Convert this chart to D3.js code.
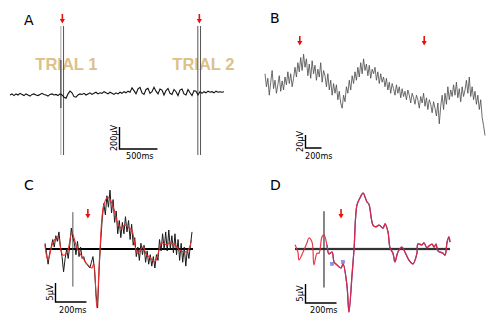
<!DOCTYPE html>
<html>
<head>
<meta charset="utf-8">
<script src="https://cdn.jsdelivr.net/npm/d3@7"></script>
<style>
  body { margin: 0; background: #fff; }
  svg { display: block; }
</style>
</head>
<body>
<svg id="fig" width="500" height="329"></svg>
<script>
// ---- Data ----

// Panel A: raw EEG, µV, one sample per ~26 ms over 2820 ms
var traceA = [0,10,-5,10,0,15,5,-5,10,0,-10,5,10,0,-5,5,15,5,0,-10,5,10,0,5,-5,10,
  0,-20,-30,10,35,20,-15,-20,0,10,
  5,15,0,10,20,5,15,25,10,20,15,30,20,10,25,15,5,20,10,25,15,30,20,35,
  25,65,40,10,55,70,20,5,50,60,15,30,70,35,10,55,45,0,40,60,15,5,50,30,-5,45,55,10,0,50,20,-5,40,35,0,30,
  15,30,20,35,25,30,20,35,25,30,25,30];
var durationA = 2820;
var trialTimesA = [690, 2495];
var trialLabels = ['TRIAL 1', 'TRIAL 2'];

// Panel B: zoomed raw EEG, µV, over 2750 ms
var traceB = [25,5,18,-8,12,30,2, 15,-5,8,22,-2,14,0, 20,8,28,10,25,5,18,
  35,20,42,28,50,30,55, 35,48,22,40,18,45,25, 38,15,32,20,42,12,30,
  22,5,25,0,15,-8,10, -5,8,-15,-2,-20,-28,-8, -18,5,-5,15,0,22,10,
  28,15,35,20,42,25,48, 30,40,22,38,18,32,25, 35,15,28,10,25,12,20,
  5,18,0,12,-5,10,2, -8,8,-5,5,-12,2,-10, -2,-15,0,-8,-20,-5,-12,
  -22,-8,-15,-28,-10,-20,-5, -25,-12,-30,-15,-22,-35,-18, -28,-40,-20,-52,-25,-8,-30,
  -5,-22,5,-15,0,-10,8, -8,12,-12,2,-18,5,-10, 0,15,-5,20,-10,5,-15,
  -2,-22,-8,-30,-15,-42,-55,-70];
var durationB = 2750;
var arrowTimesB = [435, 1990];

// Panel C: single sweep (black) and its filtered version (red), ms / µV
var sweepStartC = -180, sweepStepC = 10;
var sweepC = [1.5,-1.0,-4.0,-1.0,0.5,2.5,0.5,3.5,2.0,4.5,0.5,-2.0,-6.0,-2.5,0.0,-2.5,1.0,5.5,3.0,1.5,
  -1.5,2.0,-2.0,0.5,-2.5,-2.0,-3.5,-4.0,-4.5,-5.0,-3.5,-2.0,-5.5,-12.0,-15.5,-5.0,2.0,8.0,12.0,9.0,
  14.0,11.0,15.5,9.5,13.0,7.0,10.0,4.0,7.5,3.0,7.0,4.0,8.5,4.5,7.5,2.5,6.5,1.0,3.0,-2.0,
  0.5,-3.0,1.5,-1.5,1.0,-3.5,-0.5,-4.0,-1.5,-4.5,-2.0,-5.0,-1.5,-3.0,2.5,-0.5,4.0,0.0,4.5,-0.5,
  5.0,0.0,3.5,-1.0,4.0,-1.5,2.5,-3.0,1.5,-3.5,0.5,-4.5,0.0,-2.5,1.0,4.5];
var filtTimeC = [-181,-161,-129,-97,-65,-39,-6,26,45,65,97,123,135,155,174,200,226,252,271,290,
  316,335,355,381,400,419,452,477,497,529,548,574,606,626,658,690,723,742,768];
var filtValC = [1.1,-2.9,1.6,3.2,-1.6,-1.1,4.2,0.3,-1.1,-2.4,-4.2,-5.0,-3.9,-15.5,-1.1,11.6,13.7,12.1,9.7,6.8,
  5.5,6.3,5.8,5.0,1.1,-1.1,0.5,-1.6,-2.1,-3.4,-1.6,1.6,1.1,1.6,1.1,-0.3,-0.8,-0.5,2.4];
var arrowTimeC = 97;

// Panel D: averaged response, ms / µV
var avgTimeD = [-187,-168,-161,-135,-110,-97,-77,-65,-45,-32,-13,0,19,32,52,65,84,110,123,148,
  161,181,194,213,232,252,277,290,316,335,355,381,394,413,426,445,458,477,503,522,
  548,574,600,606,632,645,664,677,697,710,723,735,768,781,794,806,813];
var avgValD = [1.1,-0.8,-2.9,-0.8,1.6,2.9,1.8,-4.2,-1.1,-1.1,3.2,3.7,1.1,-1.3,-0.8,-3.4,-4.2,-5.0,-3.9,-9.5,
  -16.6,-6.8,0,11.6,13.4,14.7,12.4,11.8,6.3,5.8,6.3,5.5,6.6,4.5,0.3,-1.1,-3.4,-0.8,0.5,-0.8,
  -2.9,-3.9,-1.1,1.3,1.1,1.6,0.3,0.8,1.3,0.5,1.3,-0.5,-1.1,-1.6,1.8,3.2,1.8];
var markTimeD = [52, 123];
var markValD = [-3.9, -3.4];
var arrowTimeD = 110;

var stimLineUV = [-9.9, 9.7];

// ---- Drawing ----
var svg = d3.select('#fig');
var labelFont = '"DejaVu Sans", Verdana, sans-serif';
var smallFont = '"Liberation Sans Narrow", "DejaVu Sans Condensed", sans-serif';

function panelLetter(txt, x, y) {
  svg.append('text').attr('x', x).attr('y', y)
    .attr('font-family', labelFont).attr('font-size', 14).attr('fill', '#000')
    .text(txt);
}

function redArrow(x, y) {
  var g = svg.append('g').attr('transform', 'translate(' + x + ',' + y + ')');
  g.append('line').attr('x1', 0).attr('y1', 0).attr('x2', 0).attr('y2', 7)
    .attr('stroke', '#e8120c').attr('stroke-width', 1.6);
  g.append('path').attr('d', 'M-2.6,5 L2.6,5 L0,9.5 Z').attr('fill', '#e8120c');
}

function scaleBar(x0, y0, w, h, vLabel, hLabel, vx, hx, hy) {
  svg.append('path')
    .attr('d', 'M' + x0 + ',' + (y0 - h) + ' V' + y0 + ' H' + (x0 + w))
    .attr('fill', 'none').attr('stroke', '#000').attr('stroke-width', 1.4);
  svg.append('text')
    .attr('transform', 'translate(' + vx + ',' + (y0 - h / 2) + ') rotate(-90)')
    .attr('text-anchor', 'middle')
    .attr('font-family', smallFont).attr('font-size', 9).text(vLabel);
  svg.append('text').attr('x', hx).attr('y', hy)
    .attr('font-family', smallFont).attr('font-size', 9).text(hLabel);
}

// Panel A
var xA = d3.scaleLinear().domain([0, durationA]).range([10, 224]);
var yA = d3.scaleLinear().domain([-200, 200]).range([117, 73]);
var stepA = durationA / (traceA.length - 1);

panelLetter('A', 24, 25);

svg.selectAll('.trial').data(trialLabels).enter().append('text')
  .attr('class', 'trial')
  .attr('x', function(d, i) { return xA(trialTimesA[i]) - 27; })
  .attr('y', 70)
  .attr('font-family', '"Liberation Sans", Arial, sans-serif')
  .attr('font-weight', 'bold').attr('font-size', 16.5)
  .attr('fill', '#dcc189')
  .text(function(d) { return d; });

trialTimesA.forEach(function(t, i) {
  var x = xA(t);
  svg.append('line').attr('x1', x - 1.5).attr('x2', x - 1.5).attr('y1', 26).attr('y2', 155)
    .attr('stroke', i === 0 ? '#aaa' : '#555').attr('stroke-width', 1);
  if (i === 0) {
    svg.append('line').attr('x1', x - 1.5).attr('x2', x - 1.5).attr('y1', 60).attr('y2', 108)
      .attr('stroke', '#555').attr('stroke-width', 1.3);
  }
  svg.append('line').attr('x1', x + 1.2).attr('x2', x + 1.2).attr('y1', 26).attr('y2', 155)
    .attr('stroke', '#555').attr('stroke-width', 1);
  redArrow(x, 14);
});

svg.append('path').datum(traceA)
  .attr('fill', 'none').attr('stroke', '#111').attr('stroke-width', 1.1)
  .attr('d', d3.line()
    .x(function(d, i) { return xA(i * stepA); })
    .y(function(d) { return yA(d); }));

scaleBar(119.5, 149, xA(500) - xA(0), yA(0) - yA(200), '200µV', '500ms', 117, 126, 159);

// Panel B
var xB = d3.scaleLinear().domain([0, durationB]).range([265, 485]);
var yB = d3.scaleLinear().domain([-20, 20]).range([103, 77]);
var stepB = durationB / (traceB.length - 1);

panelLetter('B', 270, 23);
arrowTimesB.forEach(function(t) { redArrow(xB(t), 36); });

svg.append('path').datum(traceB)
  .attr('fill', 'none').attr('stroke', '#4a4a4a').attr('stroke-width', 0.9)
  .attr('stroke-opacity', 0.9)
  .attr('d', d3.line()
    .x(function(d, i) { return xB(i * stepB); })
    .y(function(d) { return yB(d); }));

scaleBar(305.5, 148, xB(200) - xB(0), yB(0) - yB(20), '20µV', '200ms', 303, 305, 159);

// Panel C
var xC = d3.scaleLinear().domain([-180, 770]).range([45, 192]);
var yC = d3.scaleLinear().domain([-16, 14]).range([249 + 16 * 3.8, 249 - 14 * 3.8]);

panelLetter('C', 24, 190);

svg.append('line').attr('x1', xC(-180)).attr('x2', xC(770) + 1)
  .attr('y1', yC(0)).attr('y2', yC(0))
  .attr('stroke', '#000').attr('stroke-width', 1.8);
svg.append('line').attr('x1', xC(0)).attr('x2', xC(0))
  .attr('y1', yC(stimLineUV[1])).attr('y2', yC(stimLineUV[0]))
  .attr('stroke', '#555').attr('stroke-width', 1);

svg.append('path').datum(sweepC)
  .attr('fill', 'none').attr('stroke', '#1a1a1a').attr('stroke-width', 1)
  .attr('d', d3.line()
    .x(function(d, i) { return xC(sweepStartC + i * sweepStepC); })
    .y(function(d) { return yC(d); }));

svg.append('path').datum(filtTimeC)
  .attr('fill', 'none').attr('stroke', '#ee2b2b').attr('stroke-width', 1.1)
  .attr('d', d3.line().curve(d3.curveCatmullRom)
    .x(function(d) { return xC(d); })
    .y(function(d, i) { return yC(filtValC[i]); }));

redArrow(xC(arrowTimeC), 209);
scaleBar(55.5, 302, xC(20) - xC(-180), yC(0) - yC(5), '5µV', '200ms', 53, 59, 313);

// Panel D
var xD = d3.scaleLinear().domain([-187, 813]).range([295, 450]);
var yD = d3.scaleLinear().domain([-16, 14]).range([249 + 16 * 3.8, 249 - 14 * 3.8]);

panelLetter('D', 270, 190);

svg.append('line').attr('x1', xD(-187)).attr('x2', xD(813))
  .attr('y1', yD(0)).attr('y2', yD(0))
  .attr('stroke', '#cfcfcf').attr('stroke-width', 3);
svg.append('line').attr('x1', xD(-187)).attr('x2', xD(813))
  .attr('y1', yD(0)).attr('y2', yD(0))
  .attr('stroke', '#000').attr('stroke-width', 1.3);
svg.append('line').attr('x1', xD(0)).attr('x2', xD(0))
  .attr('y1', yD(stimLineUV[1]) - 1).attr('y2', yD(stimLineUV[0]) + 1)
  .attr('stroke', '#222').attr('stroke-width', 1.1);

var lineD = d3.line().curve(d3.curveCatmullRom)
  .x(function(d) { return xD(d[0]); })
  .y(function(d) { return yD(d[1]); });
var ptsD = avgTimeD.map(function(t, i) { return [t, avgValD[i]]; });

// blue average underneath, from stimulus onward
svg.append('path').datum(ptsD.filter(function(d) { return d[0] >= 19; }))
  .attr('fill', 'none').attr('stroke', '#3434b8').attr('stroke-width', 1.2)
  .attr('d', lineD);
svg.append('path').datum(ptsD)
  .attr('fill', 'none').attr('stroke', '#e8283a').attr('stroke-width', 1.2)
  .attr('stroke-opacity', 0.92)
  .attr('d', lineD);

svg.selectAll('.mark').data(markTimeD).enter().append('rect')
  .attr('class', 'mark')
  .attr('x', function(d) { return xD(d) - 1.5; })
  .attr('y', function(d, i) { return yD(markValD[i]) - 1.5; })
  .attr('width', 3).attr('height', 3)
  .attr('fill', '#8f8fe8').attr('stroke', '#6a6ad8').attr('stroke-width', 0.5);

redArrow(xD(arrowTimeD), 209);
scaleBar(305.5, 303, xD(20) - xD(-180), yD(0) - yD(5), '5µV', '200ms', 303, 310, 313);
</script>
</body>
</html>
